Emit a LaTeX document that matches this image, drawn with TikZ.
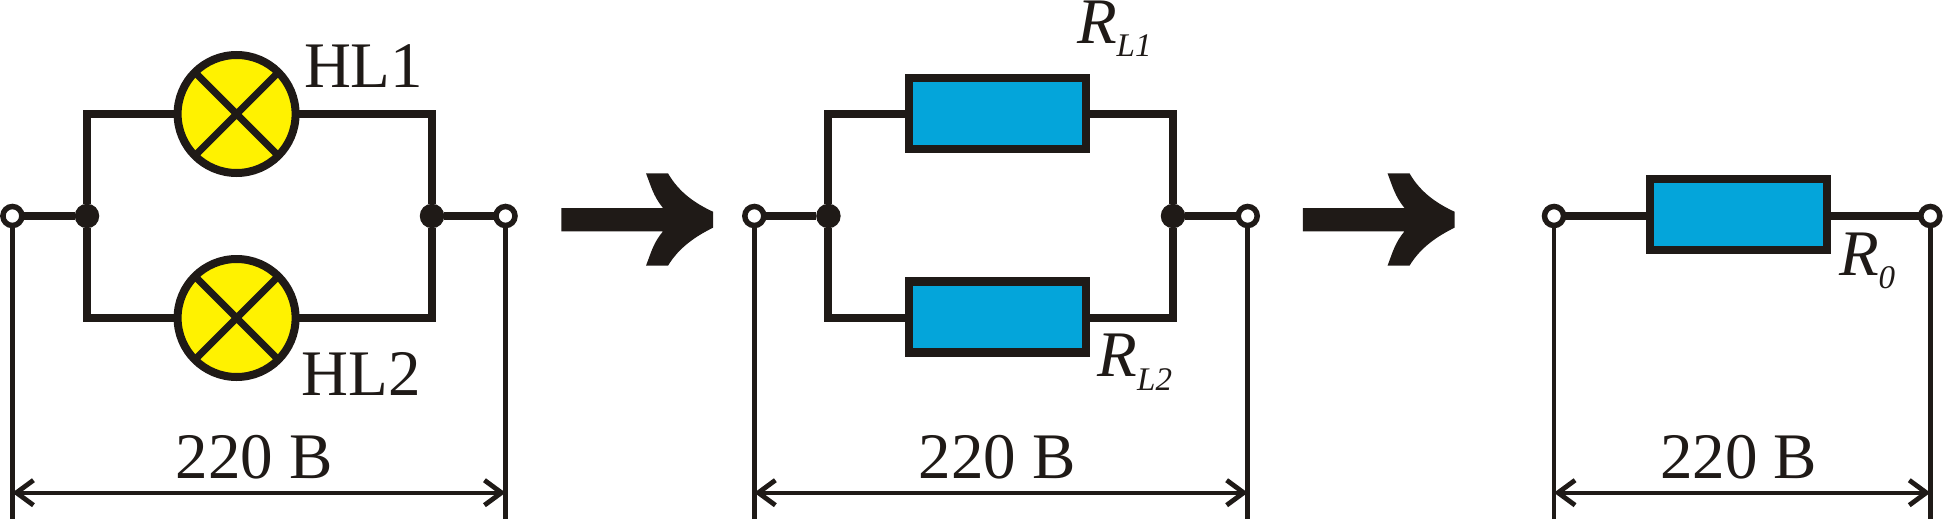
\documentclass[tikz,border=0pt]{standalone}
\usepackage{fontspec}
\setmainfont{Liberation Serif}
\usetikzlibrary{arrows.meta}
\definecolor{ink}{HTML}{1F1A17}
\definecolor{lampy}{HTML}{FFF200}
\definecolor{resb}{HTML}{04A5DA}
\newcommand{\bigfs}{\fontsize{65}{70}\selectfont}
\newcommand{\subfs}{\fontsize{33}{36}\selectfont\itshape}
\newcommand{\rlabel}[2]{{\bigfs\itshape #1}\raisebox{-13.4pt}{\subfs #2}}
\tikzset{
  every node/.style={inner sep=0pt,outer sep=0pt,text=ink},
  wire/.style={draw=ink,line width=8pt,line join=miter,line cap=butt},
  term/.style={circle,draw=ink,fill=white,line width=5.5pt,minimum size=19pt},
  junction/.style={circle,fill=ink,minimum size=24.5pt},
  lamp/.style={circle,draw=ink,fill=lampy,line width=8pt,minimum size=118pt},
  cross/.style={draw=ink,line width=7pt,line cap=butt},
  resistor/.style={rectangle,draw=ink,fill=resb,line width=8.5pt,minimum width=177pt,minimum height=71pt},
  ext/.style={draw=ink,line width=4.8pt},
  dim/.style={draw=ink,line width=4.4pt,{Straight Barb[length=17pt,width=25pt,line width=4.8pt]}-{Straight Barb[length=17pt,width=25pt,line width=4.8pt]}},
  label/.style={anchor=base west,font=\bigfs},
  bigarrow/.pic={
    \fill[ink] (0,208) -- (101.7,208) .. controls (92,196) and (90,187) .. (84.7,173.3)
      -- (106.7,173.3) .. controls (118,193) and (135,204) .. (151.7,211.7)
      -- (151.7,227.7) .. controls (135,236) and (118,247) .. (106.7,265.7)
      -- (84.7,265.7) .. controls (90,252) and (92,243) .. (101.7,231.3)
      -- (0,231.3) -- cycle;
  }
}
\begin{document}
\begin{tikzpicture}[x=1pt,y=-1pt]
\useasboundingbox (0,0) rectangle (1943,519);

% --- first circuit
\node[term] (t1) at (12.4,216) {};
\node[term] (t2) at (505.5,216) {};
\node[junction] (j1) at (87,216) {};
\node[junction] (j2) at (432,216) {};
\node[lamp] (l1) at (236.6,114) {};
\node[lamp] (l2) at (236.6,318) {};
\draw[cross] (l1.45) -- (l1.225) (l1.135) -- (l1.315);
\draw[cross] (l2.45) -- (l2.225) (l2.135) -- (l2.315);
\draw[wire] (t1) -- (j1);
\draw[wire] (j2) -- (t2);
\draw[wire] (j1) |- (l1);
\draw[wire] (j1) |- (l2);
\draw[wire] (l1) -| (j2);
\draw[wire] (l2) -| (j2);
\coordinate (b1) at (12.4,519);
\coordinate (b2) at (505.5,519);
\coordinate (d1) at (12.4,492.7);
\coordinate (d2) at (505.5,492.7);
\draw[ext] (t1) -- (b1);
\draw[ext] (t2) -- (b2);
\draw[dim] (d1) -- (d2);
\node[label] (hl1) at (304,87.7) {HL1};
\node[label] (hl2) at (301.5,395.7) {HL2};
\node[label] (v1) at (175.5,478) {220 В};

% --- arrows
\pic at (561.3,0) {bigarrow};
\pic at (1302.8,0) {bigarrow};

% --- second circuit
\node[term] (t3) at (754.3,216) {};
\node[term] (t4) at (1247.7,216) {};
\node[junction] (j3) at (828.4,216) {};
\node[junction] (j4) at (1173,216) {};
\node[resistor] (r1) at (997.3,113.4) {};
\node[resistor] (r2) at (997.3,316.8) {};
\draw[wire] (t3) -- (j3);
\draw[wire] (j4) -- (t4);
\draw[wire] (j3) |- (r1.west |- 0,114);
\draw[wire] (j3) |- (r2.west |- 0,318);
\draw[wire] (r1.east |- 0,114) -| (j4);
\draw[wire] (r2.east |- 0,318) -| (j4);
\coordinate (b3) at (754.3,519);
\coordinate (b4) at (1247.7,519);
\coordinate (d3) at (754.3,492.7);
\coordinate (d4) at (1247.7,492.7);
\draw[ext] (t3) -- (b3);
\draw[ext] (t4) -- (b4);
\draw[dim] (d3) -- (d4);
\node[label] (rl1) at (1077,43.3) {\rlabel{R}{L1}};
\node[label] (rl2) at (1097.5,376.7) {\rlabel{R}{L2}};
\node[label] (v2) at (918.5,478) {220 В};

% --- third circuit
\node[term] (t5) at (1554,216) {};
\node[term] (t6) at (1930.3,216) {};
\node[resistor] (r0) at (1738.7,214.7) {};
\draw[wire] (t5) -- (r0.west |- t5);
\draw[wire] (r0.east |- t6) -- (t6);
\coordinate (b5) at (1554,519);
\coordinate (b6) at (1930.3,519);
\coordinate (d5) at (1554,492.7);
\coordinate (d6) at (1930.3,492.7);
\draw[ext] (t5) -- (b5);
\draw[ext] (t6) -- (b6);
\draw[dim] (d5) -- (d6);
\node[label] (r0l) at (1839,275) {\rlabel{R}{0}};
\node[label] (v3) at (1660,478) {220 В};
\end{tikzpicture}
\end{document}
